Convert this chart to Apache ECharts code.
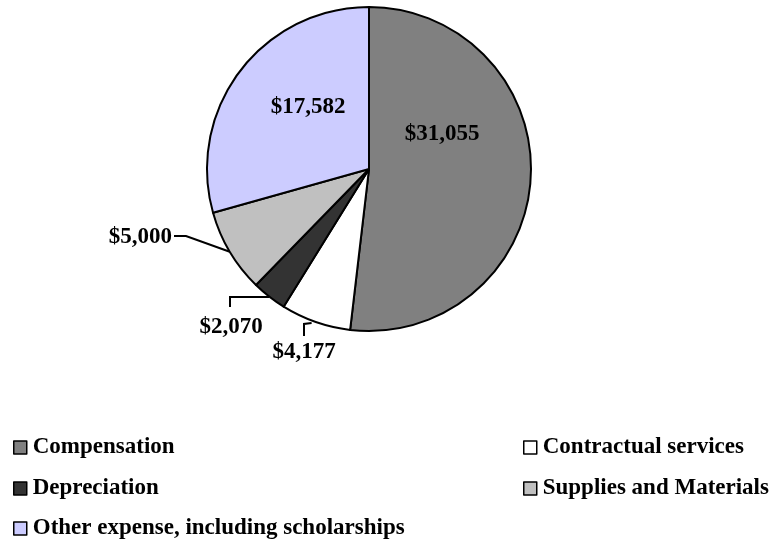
<!DOCTYPE html>
<html>
<head>
<meta charset="utf-8">
<script src="https://cdn.jsdelivr.net/npm/echarts@6/dist/echarts.min.js"></script>
<style>html,body{margin:0;padding:0;background:#fff;}#c{width:773px;height:544px;}</style>
</head>
<body>
<div id="c"></div>
<script>
const categories = ['Compensation', 'Contractual services', 'Depreciation', 'Supplies and Materials', 'Other expense, including scholarships'];
const values = [31055, 4177, 2070, 5000, 17582];
const colors = ['#808080', '#FFFFFF', '#333333', '#C0C0C0', '#CCCCFF'];

const FONT = '"Liberation Serif", serif';
const fmt = v => '$' + v.toLocaleString('en-US');

const chart = echarts.init(document.getElementById('c'), null, {renderer: 'canvas'});

const insideIdx = [0, 4];
const data = categories.map((n, i) => ({
  name: n,
  value: values[i],
  itemStyle: {color: colors[i]},
  labelLine: {show: insideIdx.indexOf(i) < 0}
}));

// legend slots: [category index, left, top]
const legendSlots = [[0, 13, 436], [1, 523, 436], [2, 13, 477], [3, 523, 477], [4, 13, 517]];
const legends = legendSlots.map(s => ({
  data: [categories[s[0]]],
  left: s[1],
  top: s[2],
  orient: 'horizontal',
  icon: 'rect',
  itemWidth: 13,
  itemHeight: 13,
  padding: 0,
  itemStyle: {borderColor: '#000', borderWidth: 1.5},
  textStyle: {fontFamily: FONT, fontWeight: 'bold', fontSize: 23, color: '#000', padding: [0, 0, 0, 1]}
}));

chart.setOption({
  animation: false,
  backgroundColor: '#fff',
  legend: legends,
  series: [{
    type: 'pie',
    center: [369, 169],
    radius: 162,
    startAngle: 90,
    clockwise: true,
    avoidLabelOverlap: false,
    itemStyle: {borderColor: '#000', borderWidth: 2},
    label: {
      show: true,
      position: 'outside',
      formatter: p => fmt(p.value),
      fontFamily: FONT,
      fontWeight: 'bold',
      fontSize: 23,
      color: '#000'
    },
    labelLine: {show: true, lineStyle: {color: '#000', width: 2}},
    labelLayout: function (p) {
      const e = p.labelLinePoints ? p.labelLinePoints[0] : [0, 0];
      switch (p.dataIndex) {
        case 0: return {x: 442, y: 134, align: 'center', verticalAlign: 'middle'};
        case 4: return {x: 308, y: 107, align: 'center', verticalAlign: 'middle'};
        case 3: return {x: 172, y: 237, align: 'right', verticalAlign: 'middle',
          labelLinePoints: [e, [186, 236], [174, 236]]};
        case 2: return {x: 231, y: 327, align: 'center', verticalAlign: 'middle',
          labelLinePoints: [[e[0], 297], [230, 297], [230, 307]]};
        case 1: return {x: 304, y: 352, align: 'center', verticalAlign: 'middle',
          labelLinePoints: [[e[0] - 4, 323], [304, 324], [304, 336]]};
      }
    },
    data: data
  }]
});
</script>
</body>
</html>
